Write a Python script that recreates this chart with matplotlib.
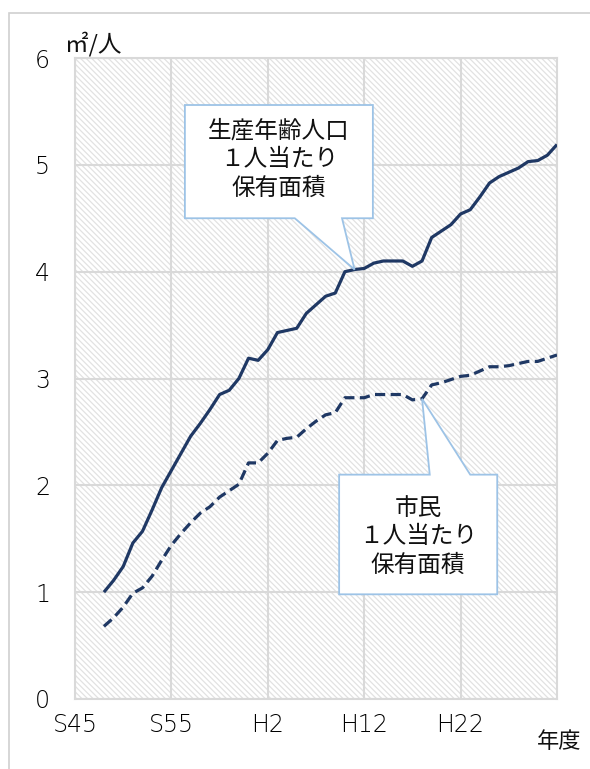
import matplotlib
matplotlib.use('Agg')
from matplotlib import pyplot as plt
from matplotlib.patches import Polygon, Rectangle
from matplotlib.transforms import ScaledTranslation

plt.rcParams['font.family'] = ['Noto Sans CJK JP', 'DejaVu Sans']
plt.rcParams['hatch.linewidth'] = 0.9

# --- data ---
years = list(range(1973, 2021))

working_age = [1.00, 1.11, 1.24, 1.46, 1.57, 1.77, 1.98, 2.14, 2.30, 2.46,
               2.58, 2.71, 2.85, 2.89, 3.00, 3.19, 3.17, 3.27, 3.43, 3.45,
               3.47, 3.61, 3.69, 3.77, 3.80, 4.00, 4.02, 4.03, 4.08, 4.10,
               4.10, 4.10, 4.05, 4.10, 4.32, 4.38, 4.44, 4.54, 4.58, 4.70,
               4.83, 4.89, 4.93, 4.97, 5.03, 5.04, 5.09, 5.19]

citizen = [0.68, 0.76, 0.86, 0.99, 1.04, 1.15, 1.30, 1.44, 1.55, 1.65,
           1.74, 1.80, 1.89, 1.95, 2.01, 2.21, 2.21, 2.30, 2.42, 2.44,
           2.45, 2.53, 2.60, 2.66, 2.68, 2.82, 2.82, 2.82, 2.85, 2.85,
           2.85, 2.85, 2.80, 2.81, 2.94, 2.96, 2.99, 3.02, 3.03, 3.07,
           3.11, 3.11, 3.12, 3.14, 3.16, 3.16, 3.19, 3.22]

tick_years = [1970, 1980, 1990, 2000, 2010]
tick_labels = ['S45', 'S55', 'H2', 'H12', 'H22']

label_working = '生産年齢人口\n１人当たり\n保有面積'
label_citizen = '市民\n１人当たり\n保有面積'

navy = '#1f3864'
grid = '#d9d9d9'
callout_edge = '#9dc3e6'

W, H = 590, 769
fig = plt.figure(figsize=(W / 100, H / 100), dpi=100)

# outer chart border (left/top visible)
fig.patches.append(Rectangle((9 / W, -0.1), 1.2, (H - 13) / H + 0.1,
                             transform=fig.transFigure, fill=False,
                             edgecolor='#d0d0d0', lw=1.2))

ax = fig.add_axes([75 / W, (H - 699) / H, (557 - 75) / W, (699 - 58) / H])
ax.set_xlim(1970, 2020)
ax.set_ylim(0, 6)

# hatched plot background
ax.add_patch(Rectangle((0, 0), 1, 1, transform=ax.transAxes, facecolor='white',
                       edgecolor='#e2e2e2', hatch='\\' * 6, lw=0, zorder=0))

ax.set_xticks(tick_years)
ax.set_xticklabels(tick_labels)
ax.set_yticks(range(0, 7))
ax.tick_params(axis='both', length=0, labelsize=17, colors='#000000')
for lab in ax.get_xticklabels() + ax.get_yticklabels():
    lab.set_fontfamily('DejaVu Sans')
    lab.set_fontweight('light')
# Excel puts the category labels a little left of the gridlines
shift = ScaledTranslation(-4 / 100, 0, fig.dpi_scale_trans)
for lab in ax.get_xticklabels():
    lab.set_transform(lab.get_transform() + shift)
ax.tick_params(axis='y', pad=18)
ax.tick_params(axis='x', pad=10)
ax.grid(True, color=grid, lw=1.5, zorder=1)
ax.set_axisbelow(False)
for s in ax.spines.values():
    s.set_color(grid)
    s.set_linewidth(1.5)

ax.plot(years, working_age, color=navy, lw=2.3, zorder=3,
        solid_capstyle='butt')
ax.plot(years, citizen, color=navy, lw=2.3, zorder=3,
        linestyle=(0, (3.2, 1.7)), dash_capstyle='butt')

# callout 1: box with pointer to 1999 working-age value
i1 = years.index(1999)
x0, x1, yb, yt = 1981.4, 2000.9, 4.50, 5.56
callout1 = [(x0, yt), (x1, yt), (x1, yb), (1997.7, yb),
            (years[i1], working_age[i1]), (1992.8, yb), (x0, yb)]
ax.add_patch(Polygon(callout1, closed=True, facecolor='white',
                     edgecolor=callout_edge, lw=1.3, zorder=4))
ax.text((x0 + x1) / 2, (yb + yt) / 2 + 0.02, label_working, ha='center',
        va='center', fontsize=17, linespacing=1.3, zorder=5, color='#111111')

# callout 2: box with pointer to 2006 citizen value
i2 = years.index(2006)
x0, x1, yb, yt = 1997.4, 2013.8, 0.98, 2.10
callout2 = [(x0, yt), (2006.8, yt), (years[i2], citizen[i2]), (2011.0, yt),
            (x1, yt), (x1, yb), (x0, yb)]
ax.add_patch(Polygon(callout2, closed=True, facecolor='white',
                     edgecolor=callout_edge, lw=1.3, zorder=4))
ax.text((x0 + x1) / 2, (yb + yt) / 2 - 0.02, label_citizen, ha='center',
        va='center', fontsize=17, linespacing=1.3, zorder=5, color='#111111')

fig.text(65 / W, 1 - 44 / H, '㎡/人', ha='left', va='center', fontsize=17,
         color='#111111')
fig.text(581 / W, 1 - 741 / H, '年度', ha='right', va='center', fontsize=16,
         color='#111111')

fig.savefig('out.png', dpi=100)
